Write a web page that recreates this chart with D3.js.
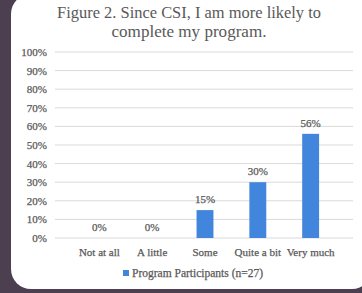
<!DOCTYPE html>
<html>
<head>
<meta charset="utf-8">
<script src="https://cdn.jsdelivr.net/npm/d3@7"></script>
<style>
  body { margin: 0; background: #4b3f50; }
  svg { display: block; }
  text { font-family: "Liberation Serif", "DejaVu Serif", serif; fill: #595959; }
</style>
</head>
<body>
<div id="chart"></div>
<script>
var categories = ["Not at all", "A little", "Some", "Quite a bit", "Very much"];
var values = [0, 0, 15, 30, 56];
var yTicks = [0, 10, 20, 30, 40, 50, 60, 70, 80, 90, 100];
var titleLines = ["Figure 2. Since CSI, I am more likely to", "complete my program."];
var seriesName = "Program Participants (n=27)";

var W = 362, H = 293;
var margin = {top: 52, right: 7, bottom: 55, left: 55},
    width = W - margin.left - margin.right,
    height = H - margin.top - margin.bottom;

var serif = '"Liberation Serif", "DejaVu Serif", serif';

var svg = d3.select("#chart")
  .append("svg")
    .attr("width", W)
    .attr("height", H);

// card background
svg.append("rect")
    .attr("width", W).attr("height", H)
    .attr("fill", "#4b3f50");
svg.append("rect")
    .attr("x", 11).attr("y", -6)
    .attr("width", 361).attr("height", 295)
    .attr("rx", 20)
    .attr("fill", "#ffffff");

// title (the original is a bit squeezed horizontally)
var titleWidths = [264, 155];
svg.append("g").selectAll("text")
  .data(titleLines)
  .enter().append("text")
    .attr("x", 189)
    .attr("y", function(d, i) { return 17.5 + i * 19; })
    .attr("text-anchor", "middle")
    .attr("textLength", function(d, i) { return titleWidths[i]; })
    .attr("lengthAdjust", "spacingAndGlyphs")
    .style("font-size", "17.5px")
    .text(function(d) { return d; });

var g = svg.append("g")
    .attr("transform", "translate(" + margin.left + "," + margin.top + ")");

var x = d3.scaleBand()
    .domain(categories)
    .range([0, width])
    .padding(0.68);

var y = d3.scaleLinear()
    .domain([0, 100])
    .range([height, 0]);

// gridlines
g.append("g")
  .selectAll("line")
  .data(yTicks)
  .enter().append("line")
    .attr("x1", 0).attr("x2", width - 2)
    .attr("y1", function(d) { return y(d); })
    .attr("y2", function(d) { return y(d); })
    .attr("stroke", "#d9d9d9")
    .attr("stroke-width", 1);

// y axis
var yAxis = g.append("g")
    .call(d3.axisLeft(y).tickValues(yTicks).tickSize(0).tickPadding(8)
      .tickFormat(function(d) { return d + "%"; }))
    .attr("font-family", serif);
yAxis.select(".domain").remove();
yAxis.selectAll("text")
    .style("font-size", "11px")
    .style("font-family", serif)
    .attr("fill", "#595959")
    .attr("stroke", "#595959").attr("stroke-width", 0.25);

// x axis
var xAxis = g.append("g")
    .attr("transform", "translate(0," + height + ")")
    .call(d3.axisBottom(x).tickSize(0).tickPadding(10))
    .attr("font-family", serif);
xAxis.select(".domain").remove();
xAxis.selectAll("text")
    .style("font-size", "11px")
    .style("font-family", serif)
    .attr("fill", "#595959")
    .attr("stroke", "#595959").attr("stroke-width", 0.25);

// bars
g.selectAll(".bar")
  .data(values)
  .enter().append("rect")
    .attr("class", "bar")
    .attr("x", function(d, i) { return x(categories[i]); })
    .attr("y", function(d) { return y(d); })
    .attr("width", x.bandwidth())
    .attr("height", function(d) { return height - y(d); })
    .attr("fill", "#4285dc");

// value labels
g.selectAll(".val")
  .data(values)
  .enter().append("text")
    .attr("class", "val")
    .attr("x", function(d, i) { return x(categories[i]) + x.bandwidth() / 2; })
    .attr("y", function(d) { return y(d) - 7; })
    .attr("text-anchor", "middle")
    .attr("stroke", "#595959").attr("stroke-width", 0.25)
    .style("font-size", "11px")
    .text(function(d) { return d + "%"; });

// legend
var legend = svg.append("g")
    .attr("transform", "translate(123,273)");
legend.append("rect")
    .attr("x", 0).attr("y", -3)
    .attr("width", 6).attr("height", 6)
    .attr("fill", "#4285dc");
legend.append("text")
    .attr("x", 9).attr("y", 0)
    .attr("dy", "0.35em")
    .attr("stroke", "#595959").attr("stroke-width", 0.25)
    .style("font-size", "11.5px")
    .text(seriesName);
</script>
</body>
</html>
